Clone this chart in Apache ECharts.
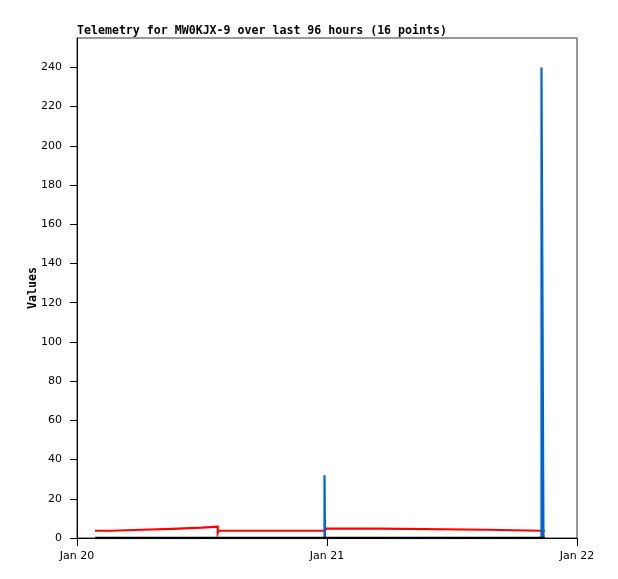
<!DOCTYPE html>
<html>
<head>
<meta charset="utf-8">
<title>Telemetry MW0KJX-9</title>
<script src="https://cdn.jsdelivr.net/npm/echarts@6/dist/echarts.min.js"></script>
<style>
  html, body { margin: 0; padding: 0; background: #fff }
  #chart { width: 618px; height: 579px }
</style>
</head>
<body>
<div id="chart"></div>
<script>
// sample times, hours after Jan 20 00:00
var hours = [1.73, 3.26, 6.21, 9.12, 12.0, 13.51, 13.6, 23.76, 23.81, 23.95, 29.02, 39.39, 44.59, 44.69, 44.78, 44.92]
// one array per telemetry channel
var redValues = [3.7, 4.2, 4.7, 5.25, 5.75, 2.55, 3.7, 3.7, 3.7, 4.75, 4.2, 3.7, 3.7, 3.7, 3.7, 3.7]
var blueValues = [0, 0, 0, 0, 0, 0, 0, 32, 0, 0, 0, 0, 240, 120, 0, 0]
var blackValues = [0, 0, 0, 0, 0, 0, 0, 0, 0, 0, 0, 0, 0, 0, 0, 0]
// tick labels
var xTicks = [0, 24, 48]
var xTickLabels = ['Jan 20', 'Jan 21', 'Jan 22']
var yTicks = [0, 20, 40, 60, 80, 100, 120, 140, 160, 180, 200, 220, 240]

function pairs (vals) {
  var out = []
  for (var i = 0; i < hours.length; i++) {
    out.push([hours[i], vals[i]])
  }
  return out
}

// gnuplot style "steps": hold the value until the next sample
function stepSeries (vals, color, width) {
  return {
    type: 'line',
    step: 'end',
    data: pairs(vals),
    showSymbol: false,
    symbol: 'none',
    silent: true,
    lineStyle: { color: color, width: width, cap: 'butt', join: 'miter' },
    itemStyle: { color: color }
  }
}

var chart = echarts.init(document.getElementById('chart'))
var labelFont = { fontFamily: 'DejaVu Sans', fontSize: 11, color: '#000' }
chart.setOption({
  animation: false,
  backgroundColor: '#fff',
  title: {
    text: 'Telemetry for MW0KJX-9 over last 96 hours (16 points)',
    left: 77,
    top: 25,
    padding: 0,
    textStyle: { fontFamily: 'DejaVu Sans Mono', fontWeight: 'bold', fontSize: 11.6, color: '#000' }
  },
  grid: {
    left: 77,
    right: 41,
    top: 38,
    bottom: 41,
    show: true,
    borderColor: '#333',
    borderWidth: 1,
    backgroundColor: '#fff'
  },
  xAxis: {
    type: 'value',
    min: 0,
    max: 48,
    interval: 24,
    axisLine: { lineStyle: { color: '#000', width: 1 } },
    axisTick: { length: 8, lineStyle: { color: '#000' } },
    axisLabel: Object.assign({
      margin: 13,
      formatter: function (v) {
        var k = xTicks.indexOf(v)
        return k >= 0 ? xTickLabels[k] : ''
      }
    }, labelFont),
    splitLine: { show: false }
  },
  yAxis: {
    type: 'value',
    min: 0,
    max: 255,
    name: 'Values',
    nameLocation: 'middle',
    nameGap: 38,
    nameRotate: 90,
    nameMoveOverlap: false,
    nameTextStyle: { fontFamily: 'DejaVu Sans Mono', fontWeight: 'bold', fontSize: 11.6, color: '#000' },
    axisLine: { show: true, lineStyle: { color: '#000', width: 1 } },
    axisTick: { show: true, length: 7, customValues: yTicks, lineStyle: { color: '#000' } },
    axisLabel: Object.assign({ margin: 15, customValues: yTicks }, labelFont),
    splitLine: { show: false }
  },
  series: [
    stepSeries(redValues, '#ff0000', 2.2),
    stepSeries(blueValues, '#0066cc', 2.2),
    stepSeries(blackValues, '#000000', 2.5)
  ]
})
</script>
</body>
</html>
